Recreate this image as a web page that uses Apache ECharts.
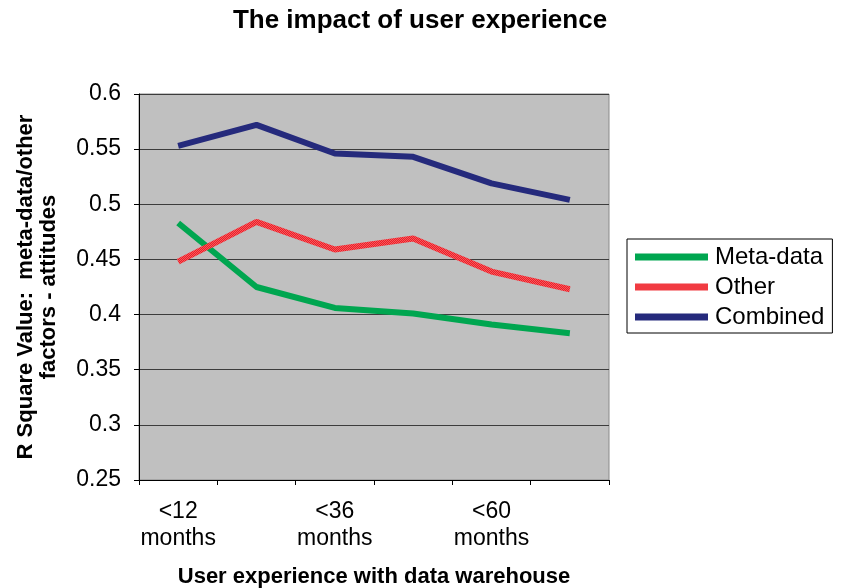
<!DOCTYPE html>
<html>
<head>
<meta charset="utf-8">
<script src="https://cdn.jsdelivr.net/npm/echarts@6/dist/echarts.min.js"></script>
<style>
  html, body { margin: 0; padding: 0; background: #fff; }
  #main { width: 841px; height: 588px; }
</style>
</head>
<body>
<div id="main"></div>
<script>
  // experience bands (only every other one is labelled on the axis)
  var categories = ['<12\nmonths', '<24\nmonths', '<36\nmonths', '<48\nmonths', '<60\nmonths', '<72\nmonths'];
  var metaData = [0.483, 0.425, 0.406, 0.401, 0.391, 0.383];
  var other = [0.448, 0.484, 0.459, 0.469, 0.439, 0.423];
  var combined = [0.553, 0.572, 0.546, 0.543, 0.519, 0.504];

  var font = 'Liberation Sans, Arial, sans-serif';

  // dithered red, like the printed "Other" line
  var cv = document.createElement('canvas');
  cv.width = 2; cv.height = 2;
  var cx = cv.getContext('2d');
  cx.fillStyle = '#ee1d26'; cx.fillRect(0, 0, 2, 2);
  cx.fillStyle = '#f45a5f'; cx.fillRect(0, 0, 1, 1); cx.fillRect(1, 1, 1, 1);
  var redPattern = { image: cv, repeat: 'repeat' };

  var chart = echarts.init(document.getElementById('main'));

  var option = {
    backgroundColor: '#fff',
    animation: false,
    title: {
      text: 'The impact of user experience',
      left: 415,
      textAlign: 'center',
      top: 3,
      textStyle: { fontFamily: font, fontSize: 26, fontWeight: 'bold', color: '#000' }
    },
    legend: {
      orient: 'vertical',
      left: 627,
      top: 239,
      icon: 'rect',
      itemWidth: 73,
      itemHeight: 7,
      itemGap: 6,
      padding: [6, 8, 4, 8],
      borderColor: '#000',
      borderWidth: 1,
      textStyle: { fontFamily: font, fontSize: 24, color: '#000', padding: [0, 0, 0, 2] },
      data: ['Meta-data', 'Other', 'Combined']
    },
    grid: {
      left: 139,
      right: 232,
      top: 94,
      bottom: 108,
      outerBoundsMode: 'none',
      show: true,
      backgroundColor: '#c0c0c0',
      borderColor: '#8a8a8a',
      borderWidth: 1
    },
    xAxis: {
      type: 'category',
      data: categories,
      boundaryGap: true,
      name: 'User experience with data warehouse',
      nameLocation: 'middle',
      nameGap: 86,
      nameTextStyle: { fontFamily: font, fontSize: 22, fontWeight: 'bold', color: '#000' },
      axisLine: { lineStyle: { color: '#000', width: 1 } },
      axisTick: { show: true, interval: 0, length: 5, lineStyle: { color: '#000' } },
      axisLabel: {
        interval: 1,
        fontFamily: font,
        fontSize: 23,
        color: '#000',
        lineHeight: 27,
        margin: 18
      }
    },
    yAxis: {
      type: 'value',
      min: 0.25,
      max: 0.6,
      interval: 0.05,
      name: 'R Square Value:  meta-data/other\nfactors - attitudes',
      nameLocation: 'middle',
      nameGap: 79,
      nameTextStyle: { fontFamily: font, fontSize: 22, fontWeight: 'bold', color: '#000', lineHeight: 23 },
      axisLine: { show: true, lineStyle: { color: '#000', width: 1 } },
      axisTick: { show: true, length: 5, lineStyle: { color: '#000' } },
      axisLabel: {
        fontFamily: font,
        fontSize: 23,
        color: '#000',
        margin: 18,
        formatter: function (v) { return String(+v.toFixed(2)); }
      },
      splitLine: { show: true, lineStyle: { color: '#3c3c3c', width: 1 } }
    },
    series: [
      {
        name: 'Meta-data',
        type: 'line',
        data: metaData,
        symbol: 'none',
        color: '#00a650',
        lineStyle: { width: 6, color: '#00a650' }
      },
      {
        name: 'Other',
        type: 'line',
        data: other,
        symbol: 'none',
        color: redPattern,
        lineStyle: { width: 6, color: redPattern }
      },
      {
        name: 'Combined',
        type: 'line',
        data: combined,
        symbol: 'none',
        color: '#252a7c',
        lineStyle: { width: 6, color: '#252a7c' }
      }
    ]
  };

  chart.setOption(option);
</script>
</body>
</html>
